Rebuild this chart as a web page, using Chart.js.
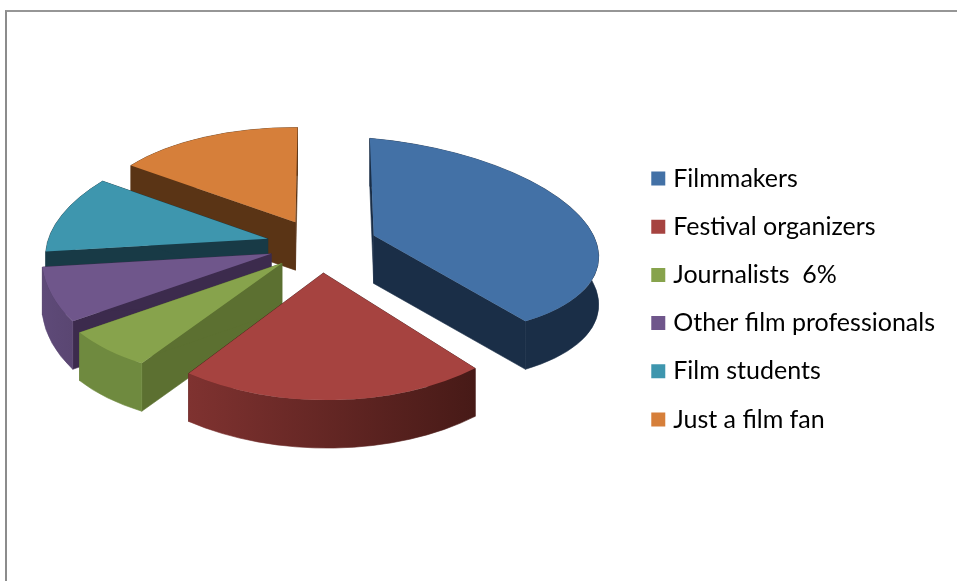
<!DOCTYPE html>
<html>
<head>
<meta charset="utf-8">
<title>Audience</title>
<script src="https://cdn.jsdelivr.net/npm/chart.js@4"></script>
<style>
  html, body { margin: 0; padding: 0; background: #fff; overflow: hidden; }
  #wrap { position: relative; width: 957px; height: 581px; }
  #frame { position: absolute; left: 5px; top: 10px; right: 0; bottom: 0; border-left: 2px solid #8c8c8c; border-top: 2px solid #969696; }
  canvas { position: absolute; left: 0; top: 0; }
</style>
</head>
<body>
<div id="wrap">
  <div id="frame"></div>
  <canvas id="pie"></canvas>
</div>
<script>
const categories = ["Filmmakers", "Festival organizers", "Journalists  6%", "Other film professionals", "Film students", "Just a film fan"];
const shares = [38.5, 22, 6.4, 7.1, 11, 15];

const topColors = ["#4371a6", "#a64340", "#87a34c", "#6f568b", "#3e96ae", "#d67f3a"];
const sideColors = ["#1a2e47", "#471a17", "#5c7031", "#3c2b4d", "#183a46", "#5a3415"];
const rimLeft = ["#1a2e47", "#7f3230", "#6f8a3f", "#5e4a78", "#183a46", "#5a3415"];
const rimRight = ["#1a2e47", "#471a17", "#6f8a3f", "#5a4672", "#183a46", "#5a3415"];

// per-slice perspective: x' = sx*x + cx*y, y' = sy*x + tilt*y
const sliceScaleX = [1, 1, 1.04, 1.02, 0.98, 0.91];
const sliceSkewX = [0, 0, 0, 0, -0.12, -0.025];
const sliceSkewY = [0.095, 0.01, -0.06, -0.013, -0.019, 0.014];
const sliceTilt = [0.43, 0.565, 0.51, 0.575, 0.474, 0.42];
const sliceExplode = [57, 54, 52, 52, 55, 54];

const PIVOT_Y = 246;
const BASE_TILT = 0.5;
const DEPTH = 48;

// -----------------------------
// Fake 3D: walls first, then the library's own arc squashed on top
// -----------------------------
function drawSlice(ctx, arc, i) {
  const p = arc.getProps(["x", "y", "startAngle", "endAngle", "outerRadius"]);
  const mid = (p.startAngle + p.endAngle) / 2;
  const R = p.outerRadius;
  const tipX = p.x + Math.cos(mid) * sliceExplode[i];
  const tipY = PIVOT_Y + BASE_TILT * Math.sin(mid) * sliceExplode[i];

  const a = sliceScaleX[i], c = sliceSkewX[i], b = sliceSkewY[i], d = sliceTilt[i];
  const e = tipX - a * p.x - c * p.y;
  const f = tipY - b * p.x - d * p.y;
  const edge = ang => {
    const x = R * Math.cos(ang), y = R * Math.sin(ang);
    return [tipX + a * x + c * y, tipY + b * x + d * y];
  };

  ctx.save();
  ctx.fillStyle = sideColors[i];
  ctx.strokeStyle = sideColors[i];
  ctx.lineWidth = 0.6;
  [p.startAngle, p.endAngle].forEach(ang => {
    const [ex, ey] = edge(ang);
    ctx.beginPath();
    ctx.moveTo(tipX, tipY);
    ctx.lineTo(ex, ey);
    ctx.lineTo(ex, ey + DEPTH);
    ctx.lineTo(tipX, tipY + DEPTH);
    ctx.closePath();
    ctx.fill();
    ctx.stroke();
  });

  const xs = [edge(p.startAngle)[0], edge(p.endAngle)[0]];
  const grad = ctx.createLinearGradient(Math.min(...xs), 0, Math.max(...xs), 0);
  grad.addColorStop(0, rimLeft[i]);
  grad.addColorStop(1, rimRight[i]);
  ctx.fillStyle = grad;
  ctx.strokeStyle = grad;
  ctx.beginPath();
  ctx.save();
  ctx.transform(a, b, c, d, e, f);
  ctx.arc(p.x, p.y, R, p.startAngle, p.endAngle);
  ctx.restore();
  ctx.save();
  ctx.transform(a, b, c, d, e, f + DEPTH);
  ctx.arc(p.x, p.y, R, p.endAngle, p.startAngle, true);
  ctx.restore();
  ctx.closePath();
  ctx.fill();
  ctx.stroke();
  ctx.restore();

  ctx.save();
  ctx.transform(a, b, c, d, e, f);
  arc.draw(ctx);
  ctx.restore();
}

const tiltPlugin = {
  id: "tilt",
  beforeDatasetDraw(chart, args) {
    const arcs = args.meta.data;
    const depthOrder = arcs.map((a, i) => i).sort((a, b) => {
      const m = el => Math.sin((el.startAngle + el.endAngle) / 2);
      return m(arcs[a]) - m(arcs[b]);
    });
    depthOrder.forEach(i => drawSlice(chart.ctx, arcs[i], i));
    return false;
  }
};

new Chart(document.getElementById("pie").getContext("2d"), {
  type: "pie",
  data: {
    labels: categories,
    datasets: [{
      data: shares,
      backgroundColor: topColors,
      borderWidth: 0
    }]
  },
  options: {
    responsive: true,
    maintainAspectRatio: false,
    animation: false,
    events: [],
    rotation: -1,
    radius: 225,
    layout: { padding: { left: 9, right: 12, top: 17, bottom: 0 } },
    plugins: {
      tooltip: { enabled: false },
      legend: {
        position: "right",
        align: "center",
        labels: {
          color: "#000",
          font: { family: "Lato", size: 25 },
          boxWidth: 5,
          boxHeight: 5,
          padding: 23.2,
          // thick same-colour outline keeps the swatch 14px with a tighter gap to the text
          generateLabels(chart) {
            const items = Chart.overrides.pie.plugins.legend.labels.generateLabels(chart);
            items.forEach(it => { it.lineWidth = 9; it.strokeStyle = it.fillStyle; });
            return items;
          }
        }
      }
    }
  },
  plugins: [tiltPlugin]
});
</script>
</body>
</html>
